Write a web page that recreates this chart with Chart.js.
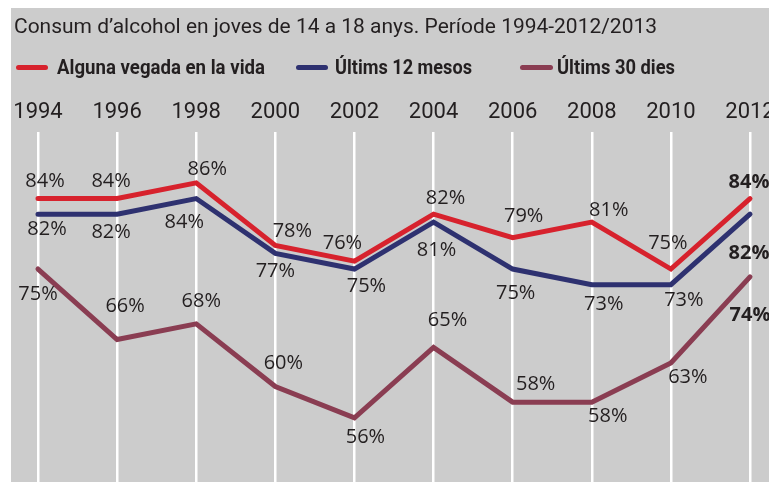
<!DOCTYPE html>
<html>
<head>
<meta charset="utf-8">
<script src="https://cdn.jsdelivr.net/npm/chart.js@4.4.1/dist/chart.umd.min.js"></script>
<style>
  html, body { margin: 0; padding: 0; background: #ffffff; width: 769px; height: 482px; overflow: hidden; }
  #panel { position: absolute; left: 11px; top: 8px; width: 758px; height: 474px; background: #cccccc; }
  #chart { position: absolute; left: 0; top: 0; }
  .txt { position: absolute; white-space: nowrap; color: #231f20; transform-origin: 0 0; line-height: 1; }
  #title { left: 14px; top: 14px; font: 21px "Liberation Sans Narrow", "Roboto", sans-serif; }
  .leg { top: 55px; font: bold 20px "Liberation Sans Narrow", "Roboto", sans-serif; }
  .mark { position: absolute; height: 5px; border-radius: 3px; top: 65px; }
</style>
</head>
<body>
<div id="panel"></div>
<canvas id="chart" width="820" height="482"></canvas>
<div id="title" class="txt">Consum d’alcohol en joves de 14 a 18 anys. Període 1994-2012/2013</div>
<div class="mark" style="left:16px;width:32px;background:#d7222d"></div>
<div id="leg1" class="txt leg" style="left:57px">Alguna vegada en la vida</div>
<div class="mark" style="left:296px;width:32px;background:#2e3170"></div>
<div id="leg2" class="txt leg" style="left:335px">Últims 12 mesos</div>
<div class="mark" style="left:520px;width:33px;background:#8a3d52"></div>
<div id="leg3" class="txt leg" style="left:557px">Últims 30 dies</div>
<script>
// ---- data ----
const years = ['1994', '1996', '1998', '2000', '2002', '2004', '2006', '2008', '2010', '2012'];
const everValues = [84, 84, 86, 78, 76, 82, 79, 81, 75, 84];
const lastYearValues = [82, 82, 84, 77, 75, 81, 75, 73, 73, 82];
const lastMonthValues = [75, 66, 68, 60, 56, 65, 58, 58, 63, 74];
const seriesNames = ['Alguna vegada en la vida', 'Últims 12 mesos', 'Últims 30 dies'];

// ---- label placement (style) ----
const labelOffsets = [
  [[7,-17],[-6,-17],[11,-14],[17,-14],[-12,-18],[12,-16],[11,-21],[17,-12],[-3,-26],[-1,-16]],
  [[9,15],[-6,18],[-12,24],[0,18],[12,17],[3,28],[3,24],[12,20],[13,16],[-1,39]],
  [[0,25],[8,-33],[5,-23],[8,-23],[11,20],[14,-27],[23,-18],[16,14],[17,14],[0,38]]
];

const colors = ['#d7222d', '#2e3170', '#8a3d52'];

const pointLabels = {
  id: 'pointLabels',
  afterDatasetsDraw(chart) {
    const ctx = chart.ctx;
    ctx.save();
    ctx.textAlign = 'center';
    ctx.textBaseline = 'middle';
    ctx.fillStyle = '#231f20';
    chart.data.datasets.forEach((ds, di) => {
      const meta = chart.getDatasetMeta(di);
      meta.data.forEach((pt, i) => {
        const off = labelOffsets[di][i];
        const last = i === ds.data.length - 1;
        ctx.font = (last ? 'bold ' : '') + '20px "Open Sans"';
        ctx.fillText(ds.data[i] + '%', pt.x + off[0], pt.y + off[1]);
      });
    });
    ctx.restore();
  }
};

function mk(label, data, color) {
  return {
    label, data,
    borderColor: color, backgroundColor: color,
    borderWidth: 5, pointRadius: 0, pointHoverRadius: 0,
    tension: 0, borderCapStyle: 'round', borderJoinStyle: 'miter', clip: false
  };
}

new Chart(document.getElementById('chart'), {
  type: 'line',
  data: {
    labels: years,
    datasets: [
      mk(seriesNames[0], everValues, colors[0]),
      mk(seriesNames[1], lastYearValues, colors[1]),
      mk(seriesNames[2], lastMonthValues, colors[2])
    ]
  },
  options: {
    responsive: false,
    animation: false,
    devicePixelRatio: 1,
    layout: { padding: { left: 38, right: 70, top: 0, bottom: 0 } },
    plugins: { legend: { display: false }, title: { display: false }, tooltip: { enabled: false } },
    scales: {
      x: {
        position: 'top',
        offset: false,
        afterFit(scale) { scale.height = 132; },
        grid: { color: '#ffffff', lineWidth: 2.5, drawTicks: false },
        border: { display: false },
        ticks: { color: '#231f20', padding: 6, maxRotation: 0, autoSkip: false,
                 font: { family: '"Liberation Sans Narrow", "Roboto", sans-serif', size: 22 } }
      },
      y: { display: false, min: 47.8, max: 92.5 }
    }
  },
  plugins: [pointLabels]
});

function fit(id, w) {
  const el = document.getElementById(id);
  el.style.transform = 'none';
  const nat = el.getBoundingClientRect().width;
  el.style.transform = 'scaleX(' + (w / nat) + ')';
}
fit('title', 643);
fit('leg1', 208);
fit('leg2', 137);
fit('leg3', 118);
</script>
</body>
</html>
